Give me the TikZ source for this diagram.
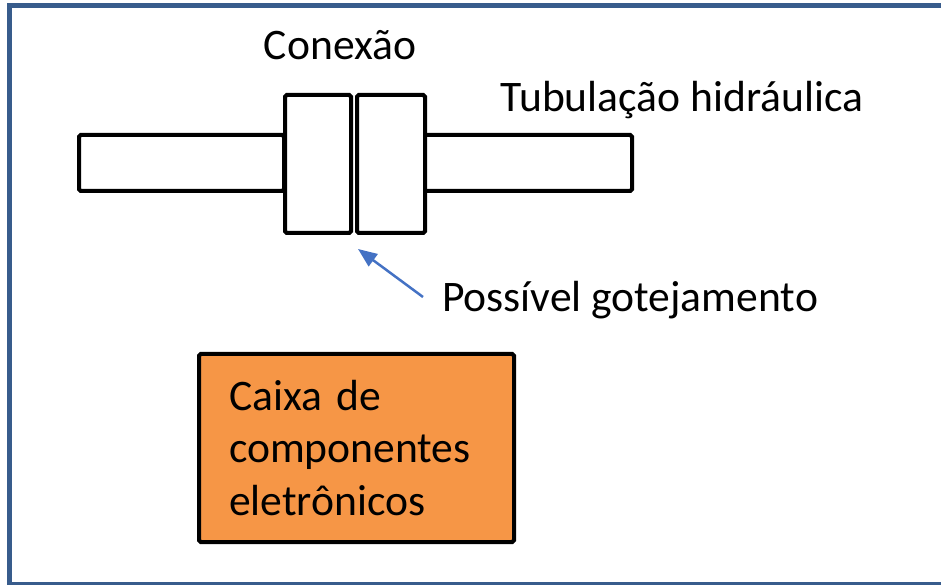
\documentclass[tikz,border=0pt]{standalone}
\usepackage{fontspec}
\setmainfont{Carlito}
\usetikzlibrary{arrows.meta}
\definecolor{framecolor}{RGB}{56,92,140}
\definecolor{boxorange}{RGB}{246,150,70}
\definecolor{arrowblue}{RGB}{68,114,196}

\begin{document}
\begin{tikzpicture}[line width=0.08cm,>={Triangle[length=0.38cm,width=0.3cm]}]
  \tikzstyle{every node}=[font=\fontsize{24.8}{30}\selectfont]
  \tikzstyle{pipe}=[draw,fill=white,rounded corners=1pt,inner sep=0pt]
  \tikzstyle{label}=[inner sep=0pt]

  \useasboundingbox (0,0) rectangle (18.82,-11.7);
  \draw[framecolor,line width=0.1cm] (0.19,-0.106) rectangle (19.5,-11.69);

  \node[pipe,minimum width=4.1cm,minimum height=1.12cm] (left) at (3.63,-3.26) {};
  \node[pipe,minimum width=4.16cm,minimum height=1.12cm] (right) at (10.56,-3.26) {};
  \node[pipe,minimum width=1.32cm,minimum height=2.76cm] (conA) at (6.36,-3.28) {};
  \node[pipe,minimum width=1.36cm,minimum height=2.76cm] (conB) at (7.82,-3.28) {};

  \node[label] (conexao) at (6.8,-0.9) {Conexão};
  \node[label] (tubo) at (13.64,-2.0) {Tubulação hidráulica};
  \node[label] (gote) at (12.6,-6.0) {Possível gotejamento};

  \node[draw,fill=boxorange,rounded corners=1pt,text width=5.1cm,inner xsep=0.6cm,
        align=left,minimum height=3.76cm] (caixa) at (7.13,-8.96)
        {Caixa de\\componentes\\eletrônicos};

  \coordinate (tail) at (8.46,-5.94);
  \coordinate (tip) at (7.16,-4.98);
  \draw[->,arrowblue,line width=0.05cm] (tail) -- (tip);
\end{tikzpicture}
\end{document}
